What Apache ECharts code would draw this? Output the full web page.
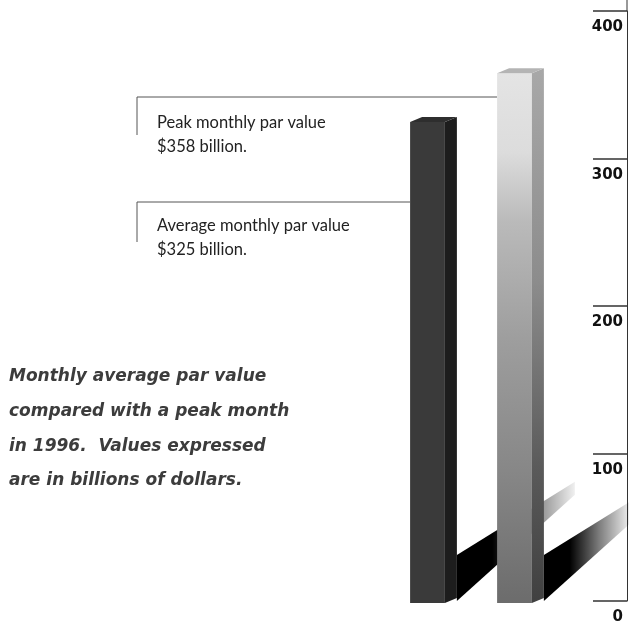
<!DOCTYPE html>
<html><head><meta charset="utf-8">
<script src="https://cdn.jsdelivr.net/npm/echarts@6/dist/echarts.min.js"></script>
<style>html,body{margin:0;padding:0;background:#fff}#c{width:629px;height:625px}</style>
</head><body><div id="c"></div>
<script>
// ---- data ----
const categories = ['Average', 'Peak'];
const values = [325, 358];
const yMin = 0, yMax = 400, yStep = 100;
const peakLabel = ['Peak monthly par value', '$358 billion.'];
const avgLabel = ['Average monthly par value', '$325 billion.'];
const captionLines = [
  'Monthly average par value',
  'compared with a peak month',
  'in 1996.  Values expressed',
  'are in billions of dollars.'
];

// ---- styles ----
const LG = (x0,y0,x1,y1,stops) => new echarts.graphic.LinearGradient(x0,y0,x1,y1,
  stops.map((c,k)=>({offset:c[0], color:c[1]})));
const barStyles = [
  { front: '#3a3a3a', side: '#1d1d1d', top: '#2e2e2e', shadowLen: 118 },
  { front: LG(0,0,0,1,[[0,'#e4e4e4'],[0.15,'#dcdcdc'],[0.28,'#bababa'],[0.5,'#9e9e9e'],[0.75,'#878787'],[1,'#6c6c6c']]),
    side: LG(0,0,0,1,[[0,'#a8a8a8'],[0.4,'#8c8c8c'],[0.75,'#5a5a5a'],[1,'#404040']]),
    top: '#b4b4b4', shadowLen: 86 }
];
const shadowGrad = () => LG(0,0,1,0,[[0,'rgba(0,0,0,1)'],[0.3,'rgba(0,0,0,1)'],[0.65,'rgba(0,0,0,0.5)'],[1,'rgba(0,0,0,0.06)']]);

function renderItem(params, api) {
  const i = params.dataIndex;
  const base = api.coord([api.value(0), 0]);
  const top = api.coord([api.value(0), api.value(1)]);
  const w = api.size([1, 0])[0] * 0.4;
  const xl = base[0] - w / 2, xr = base[0] + w / 2, y0 = base[1], yt = top[1];
  const dx = 12, dy = 5, th = 43;
  const st = barStyles[i];
  const sx = xr + dx, sy = y0 - dy, L = st.shadowLen;
  return {
    type: 'group',
    children: [
      { type: 'polygon', shape: { points: [[sx, y0 - 2], [sx, sy - th], [sx + L, sy - th - L * 0.62], [sx + L, y0 - 2 - L * 0.9]] },
        style: { fill: shadowGrad() } },
      { type: 'rect', shape: { x: xl, y: yt, width: w, height: y0 - yt }, style: { fill: st.front } },
      { type: 'polygon', shape: { points: [[xr, yt], [xr + dx, yt - dy], [xr + dx, y0 - dy], [xr, y0]] }, style: { fill: st.side } },
      { type: 'polygon', shape: { points: [[xl, yt], [xl + dx, yt - dy], [xr + dx, yt - dy], [xr, yt]] }, style: { fill: st.top } }
    ]
  };
}

const chart = echarts.init(document.getElementById('c'), null, { renderer: 'canvas' });
const lineColor = '#555';
const txt = (s, x, y, font, fill) => ({ type: 'text', x: x, y: y, style: { text: s, font: font, fill: fill, textVerticalAlign: 'middle' } });
const labelFont = '16.5px Lato';
const capFont = 'italic bold 17px "DejaVu Sans"';
const graphics = [
  { type: 'line', shape: { x1: 627, y1: 0, x2: 627, y2: 11 }, style: { stroke: '#333', lineWidth: 1 } },
  { type: 'polyline', shape: { points: [[137, 135], [137, 97], [497, 97]] }, style: { stroke: lineColor, lineWidth: 1, fill: null } },
  { type: 'polyline', shape: { points: [[137, 242], [137, 202], [410, 202]] }, style: { stroke: lineColor, lineWidth: 1, fill: null } },
  txt(peakLabel[0], 157, 123, labelFont, '#222'),
  txt(peakLabel[1], 157, 147, labelFont, '#222'),
  txt(avgLabel[0], 157, 226, labelFont, '#222'),
  txt(avgLabel[1], 157, 250, labelFont, '#222')
];
captionLines.forEach((s, k) => graphics.push(txt(s, 9, 377 + k * 34.6, capFont, '#3c3c3c')));

chart.setOption({
  backgroundColor: '#fff',
  animation: false,
  grid: [
    { left: 560, right: 2, top: 11, bottom: 22 },
    { left: 384, width: 174, top: 11, bottom: 22 }
  ],
  xAxis: [
    { type: 'category', gridIndex: 0, data: [''], show: false },
    { type: 'category', gridIndex: 1, data: categories, show: false }
  ],
  yAxis: [
    { type: 'value', gridIndex: 0, position: 'right', min: yMin, max: yMax, interval: yStep,
      splitLine: { show: false },
      axisLine: { show: true, lineStyle: { color: '#333', width: 1 } },
      axisTick: { show: true, inside: true, length: 34, lineStyle: { color: '#333', width: 1.5 } },
      axisLabel: { inside: true, margin: 4, color: '#111', fontFamily: 'DejaVu Sans', fontWeight: 'bold', fontSize: 15,
        verticalAlign: 'top', padding: [9, 0, 0, 0] } },
    { type: 'value', gridIndex: 1, min: yMin, max: yMax, interval: yStep, show: false }
  ],
  series: [{
    type: 'custom', xAxisIndex: 1, yAxisIndex: 1, clip: false,
    renderItem: renderItem,
    data: categories.map((c, k) => [c, values[k]])
  }],
  graphic: graphics
});
</script></body></html>
